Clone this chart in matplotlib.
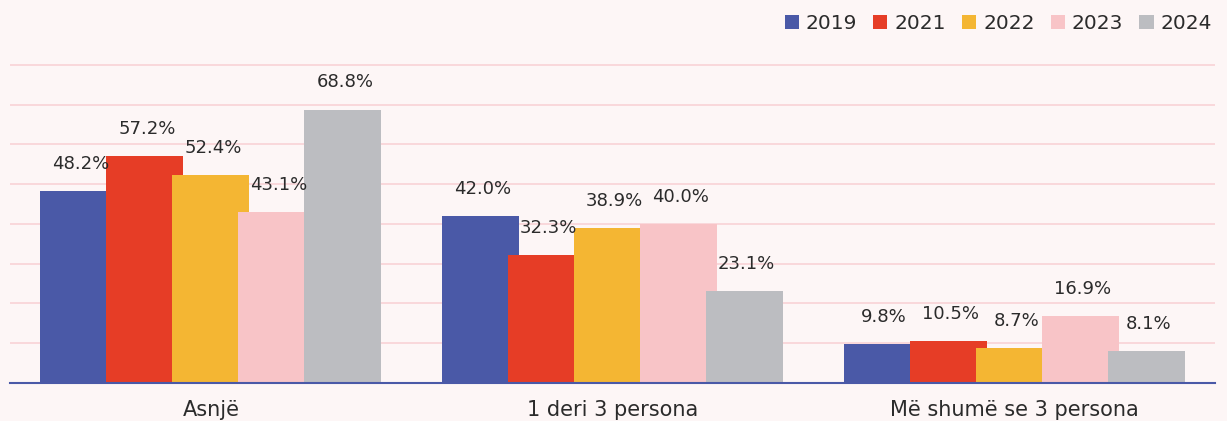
import numpy as np
import matplotlib
matplotlib.use("Agg")
import matplotlib.pyplot as plt

categories = ["Asnjë", "1 deri 3 persona", "Më shumë se 3 persona"]
years = ["2019", "2021", "2022", "2023", "2024"]
v2019 = [48.2, 42.0, 9.8]
v2021 = [57.2, 32.3, 10.5]
v2022 = [52.4, 38.9, 8.7]
v2023 = [43.1, 40.0, 16.9]
v2024 = [68.8, 23.1, 8.1]
series = [v2019, v2021, v2022, v2023, v2024]

colors = ["#4a59a7", "#e63d26", "#f4b633", "#f8c4c7", "#bcbdc1"]
bg = "#fdf6f6"
text_col = "#2b2b2b"

plt.rcParams['font.family'] = ['DejaVu Sans']

fig = plt.figure(figsize=(12.27, 4.21), dpi=100, facecolor=bg)
ax = fig.add_axes([10 / 1227, 38 / 421, 1205 / 1227, 320 / 421])
ax.set_facecolor(bg)

x = np.arange(len(categories))
step = 0.1644
width = 0.192
for i, (vals, col, yr) in enumerate(zip(series, colors, years)):
    pos = x + (i - 2) * step
    ax.bar(pos, vals, width=width, color=col, label=yr, zorder=2 + i)
    for p, v in zip(pos, vals):
        ax.annotate(f"{v:.1f}%", (p, v), xytext=(1.5, 13), textcoords="offset points",
                    ha="center", va="bottom", fontsize=13, color=text_col, zorder=10)

ax.set_xlim(-0.5, 2.5)
ax.set_ylim(0, 80.5)
ax.set_yticks(np.arange(10, 81, 10))
ax.yaxis.grid(True, color="#f9d3d6", linewidth=1.2, zorder=0)
ax.set_axisbelow(True)
ax.tick_params(axis="y", left=False, labelleft=False)
ax.tick_params(axis="x", bottom=False, labelsize=15, labelcolor=text_col, pad=9)
ax.set_xticks(x)
ax.set_xticklabels(categories)
for s in ["top", "right", "left"]:
    ax.spines[s].set_visible(False)
ax.spines["bottom"].set_color("#4a59a7")
ax.spines["bottom"].set_linewidth(1.5)
ax.spines["bottom"].set_zorder(20)

leg = fig.legend(loc="upper right", bbox_to_anchor=(0.999, 1.0), ncol=5, frameon=False,
                 fontsize=14.5, handlelength=0.7, handleheight=0.7, handletextpad=0.35,
                 columnspacing=0.8, labelcolor=text_col, borderaxespad=0.28)

fig.savefig("out.png", dpi=100, facecolor=bg)
